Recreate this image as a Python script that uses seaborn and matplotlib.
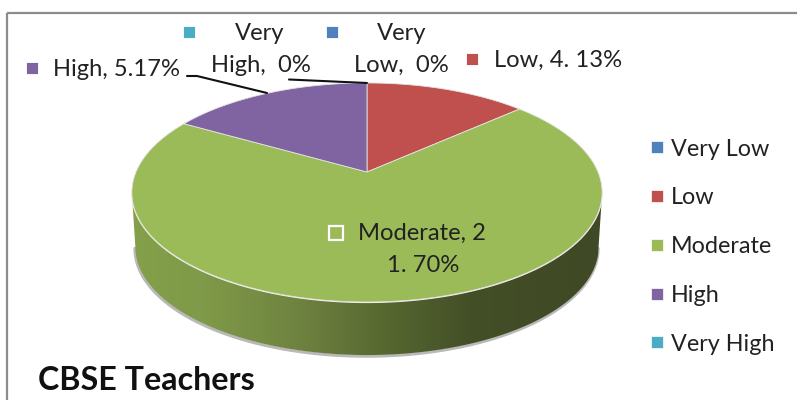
import numpy as np
import matplotlib
matplotlib.use("Agg")
import matplotlib.pyplot as plt
from matplotlib.lines import Line2D
from matplotlib.patches import Rectangle, PathPatch, Polygon
from matplotlib.path import Path
from matplotlib.colors import LinearSegmentedColormap
import seaborn as sns

sns.set_style("white")
plt.rcParams['font.family'] = ['Lato', 'DejaVu Sans']

categories = ["Very Low", "Low", "Moderate", "High", "Very High"]
values = [0, 4.13, 21.70, 5.17, 0]
colors = ["#4F81BD", "#C0504D", "#9BBB59", "#8064A2", "#4BACC6"]
title = "CBSE Teachers"

fig = plt.figure(figsize=(7.97, 4.0), dpi=100)
ax = fig.add_axes([0, 0, 1, 1])
ax.set_xlim(0, 797); ax.set_ylim(400, 0); ax.axis("off")

# chart frame
ax.add_patch(Rectangle((7.5, 12.5), 800, 400, fill=False, ec="#8c8c8c", lw=1.6, clip_on=True))

# perspective projection of the pie disc
CX, CY, RX, RY, K, DEPTH = 367, 172, 231, 105.7, 0.187, 55

def proj(x, y, scale=1.0, dy=0.0):
    w = 1 + K * y
    return CX + scale * RX * x / w, CY + dy - scale * RY * y / w

# side wall, visible along the front of the rim
t = np.linspace(np.arcsin(K) + np.pi, 2 * np.pi - np.arcsin(K), 240)
tx, ty = proj(np.cos(t), np.sin(t))
bx, by = proj(np.cos(t), np.sin(t), 0.985, DEPTH)
verts = np.r_[np.c_[tx, ty], np.c_[bx, by][::-1]]
# soft shadow under wall
ax.plot(bx - 0.5, by + 1.2, color="#a8a8a8", lw=2.2, alpha=0.8, zorder=1.5)
grad = LinearSegmentedColormap.from_list("wall", [
    (0.0, "#84A04A"), (0.15, "#7F9A48"), (0.35, "#6F8340"), (0.55, "#55662F"),
    (0.72, "#434F27"), (1.0, "#3F4925")])
im = ax.imshow(np.linspace(0, 1, 256)[None, :], extent=(tx.min(), tx.max(), 360, 190),
               cmap=grad, aspect="auto", zorder=2)
im.set_clip_path(PathPatch(Path(verts, closed=False), transform=ax.transData))
ax.set_xlim(0, 797); ax.set_ylim(400, 0)
ax.plot(tx, ty + 0.4, color="#f2f2f2", lw=1.0, zorder=3)

# wedges clockwise from the top, taken from the values
total = sum(values)
start = 0.0
for val, col in zip(values, colors):
    sweep = val / total * 2 * np.pi
    if val > 0:
        a = np.linspace(start, start + sweep, 200)
        x, y = proj(np.sin(a), np.cos(a))
        ax.add_patch(Polygon(np.c_[np.r_[CX, x], np.r_[CY, y]], closed=True, fc=col,
                             ec="#e4e4e4", lw=0.6, zorder=4))
    start += sweep

# leader lines
ax.plot([187, 197, 267], [76, 76, 93], color="#111111", lw=1.5, zorder=5)
ax.plot([289, 367], [79.5, 83], color="#111111", lw=1.5, zorder=5)

# data labels
TXT = "#222222"
FS = 17.1
def label(x, y, s, ha="left", **kw):
    ax.text(x, y, s, ha=ha, va="center", fontsize=FS, color=TXT, zorder=6, **kw)

def key(x, y, c, ec="white"):
    ax.plot([x], [y], marker="s", ms=9.3, mfc=c, mec=ec, mew=0.6, ls="none", zorder=6)

key(189, 32, colors[4]); label(235, 34, "Very")
label(211, 65, "High,  0%")
key(332, 32, colors[0]); label(377, 34, "Very")
label(354, 65, "Low,  0%")
key(472, 59, colors[1]); label(494, 60, "Low, 4. 13%")
key(32, 68, colors[3]); label(53, 69, "High, 5.17%")
ax.plot([336], [233], marker="s", ms=9.6, mfc=colors[2], mec="white", mew=1.6, ls="none", zorder=6)
label(358, 233, "Moderate, 2")
label(387, 266, "1. 70%")

# legend
handles = [Line2D([], [], marker="s", ms=9.3, mfc=c, mec="white", mew=0.5, ls="none") for c in colors]
ax.legend(handles, categories, loc="upper left", bbox_to_anchor=(641 / 797, 1 - 138.5 / 400),
          frameon=False, fontsize=16.8, labelspacing=1.19, handletextpad=-0.1,
          handlelength=1.4, borderpad=0, borderaxespad=0, labelcolor=TXT)

ax.text(38, 380, title, fontsize=23.2, fontweight="bold", color="#111111", va="center", ha="left")

fig.savefig("out.png", dpi=100)
